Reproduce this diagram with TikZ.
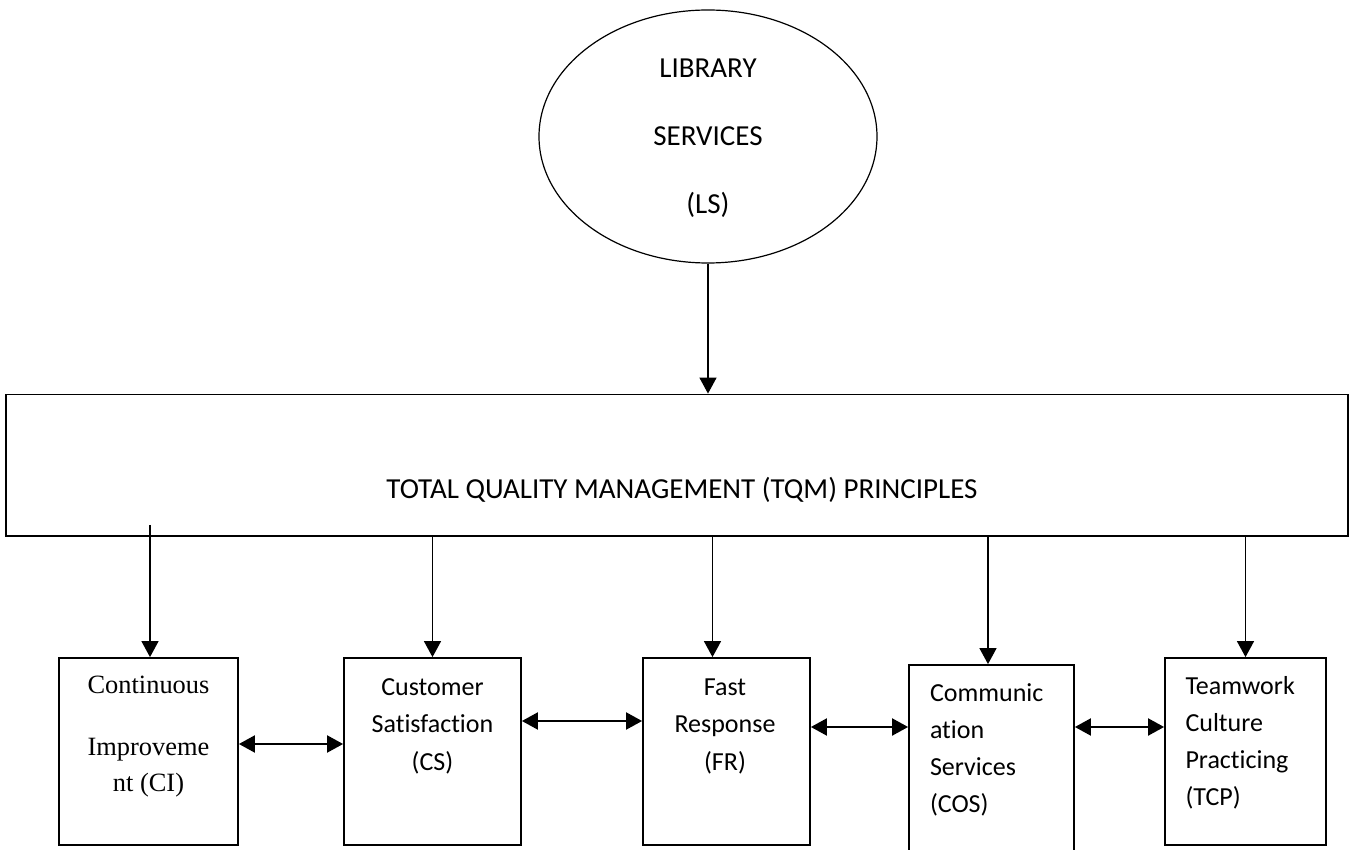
\documentclass[tikz,border=0pt]{standalone}
\usepackage{fontspec}
\setmainfont{Carlito}[Ligatures=NoCommon]
\newfontfamily\timesfont{Liberation Serif}
\usepackage{tikz}
\usetikzlibrary{shapes.geometric, arrows.meta, positioning, calc}
\tikzset{
	service/.style={
		ellipse, 
		minimum width=169pt, 
		minimum height=126.5pt, 
		inner sep=0pt, 
		text depth=-3.4pt, 
		align=center, 
		draw=black, 
		line width=0.6pt,
		font=\fontsize{14.5}{34}\selectfont
	},
	frame/.style={
		rectangle, 
		minimum width=671pt, 
		minimum height=70.75pt, 
		draw=black, 
		line width=0.9pt
	},
	principle/.style={
		rectangle, 
		minimum height=93.5pt, 
		draw=black, 
		line width=0.9pt
	},
	boxtext/.style={
		inner sep=0pt, 
		font=\fontsize{13}{18.75}\selectfont
	},
	arrow/.style={line width=0.7pt,-{Triangle[length=8pt,width=8.5pt]}},
	biarrow/.style={line width=1pt,{Triangle[length=8pt,width=8.5pt]}-{Triangle[length=8pt,width=8.5pt]}}
}

\begin{document}
\begin{tikzpicture}[x=0.5pt, y=-0.5pt]
				\useasboundingbox (0,0) rectangle (1351,850);
				\node (ls) [service] at (708,136.5) {LIBRARY\\SERVICES\\(LS)};
				\node (tqm) [frame] at (677,465.25) {};
				\node (tqmtext) [boxtext, font=\fontsize{14.5}{17}\selectfont] at (682,490) {TOTAL QUALITY MANAGEMENT (TQM) PRINCIPLES};
				
				\node (ci) [principle, minimum width=89.5pt] at (148.5,751.5) {};
				\node (cs) [principle, minimum width=88.5pt] at (432.5,751.5) {};
				\node (fr) [principle, minimum width=83.5pt] at (726.5,751.5) {};
				\node (cos) [principle, minimum width=82.5pt, minimum height=95.5pt] at (991.5,760.5) {};
				\node (tcp) [principle, minimum width=80.5pt] at (1245.5,751.5) {};
				
				\node (citext) [boxtext, align=center, font=\timesfont\fontsize{13.2}{18}\selectfont] at ([yshift=7.25pt]ci.center) {Continuous\\[13pt]Improveme\\nt (CI)};
				\node (cstext) [boxtext, align=center] at ([yshift=12.75pt]cs.center) {Customer\\Satisfaction\\(CS)};
				\node (frtext) [boxtext, align=center] at ([xshift=-0.75pt, yshift=12.75pt]fr.center) {Fast\\Response\\(FR)};
				\node (costext) [boxtext, align=left, anchor=west, font=\fontsize{13}{18.5}\selectfont] at ([xshift=10.75pt, yshift=5.5pt]cos.west) {Communic\\ation\\Services\\(COS)};
				\node (tcptext) [boxtext, align=left, anchor=west, font=\fontsize{13}{18.5}\selectfont] at ([xshift=10.5pt, yshift=4.5pt]tcp.west) {Teamwork\\Culture\\Practicing\\(TCP)};
				
				\draw [arrow] (ls.south) -- (ls.south |- tqm.north);
				\draw [arrow] ($(ci.north |- tqm.south)+(1.5,-12)$) -- ($(ci.north)+(1.5,0)$);
				\draw [arrow] (cs.north |- tqm.south) -- (cs.north);
				\draw [arrow] ($(fr.north |- tqm.south)+(-14,0)$) -- ($(fr.north)+(-14,0)$);
				\draw [arrow] ($(cos.north |- tqm.south)+(-3.5,0)$) -- ($(cos.north)+(-3.5,0)$);
				\draw [arrow] (tcp.north |- tqm.south) -- (tcp.north);
				
				\draw [biarrow] ([yshift=3.75pt]ci.east) -- ([yshift=3.75pt]cs.west);
				\draw [biarrow] ([yshift=15.25pt]cs.east) -- ([yshift=15.25pt]fr.west);
				\draw [biarrow] ([yshift=12.25pt]fr.east) -- ([yshift=16.75pt]cos.west);
				\draw [biarrow] ([yshift=16.75pt]cos.east) -- ([yshift=12.25pt]tcp.west);
			\end{tikzpicture}
\end{document}
